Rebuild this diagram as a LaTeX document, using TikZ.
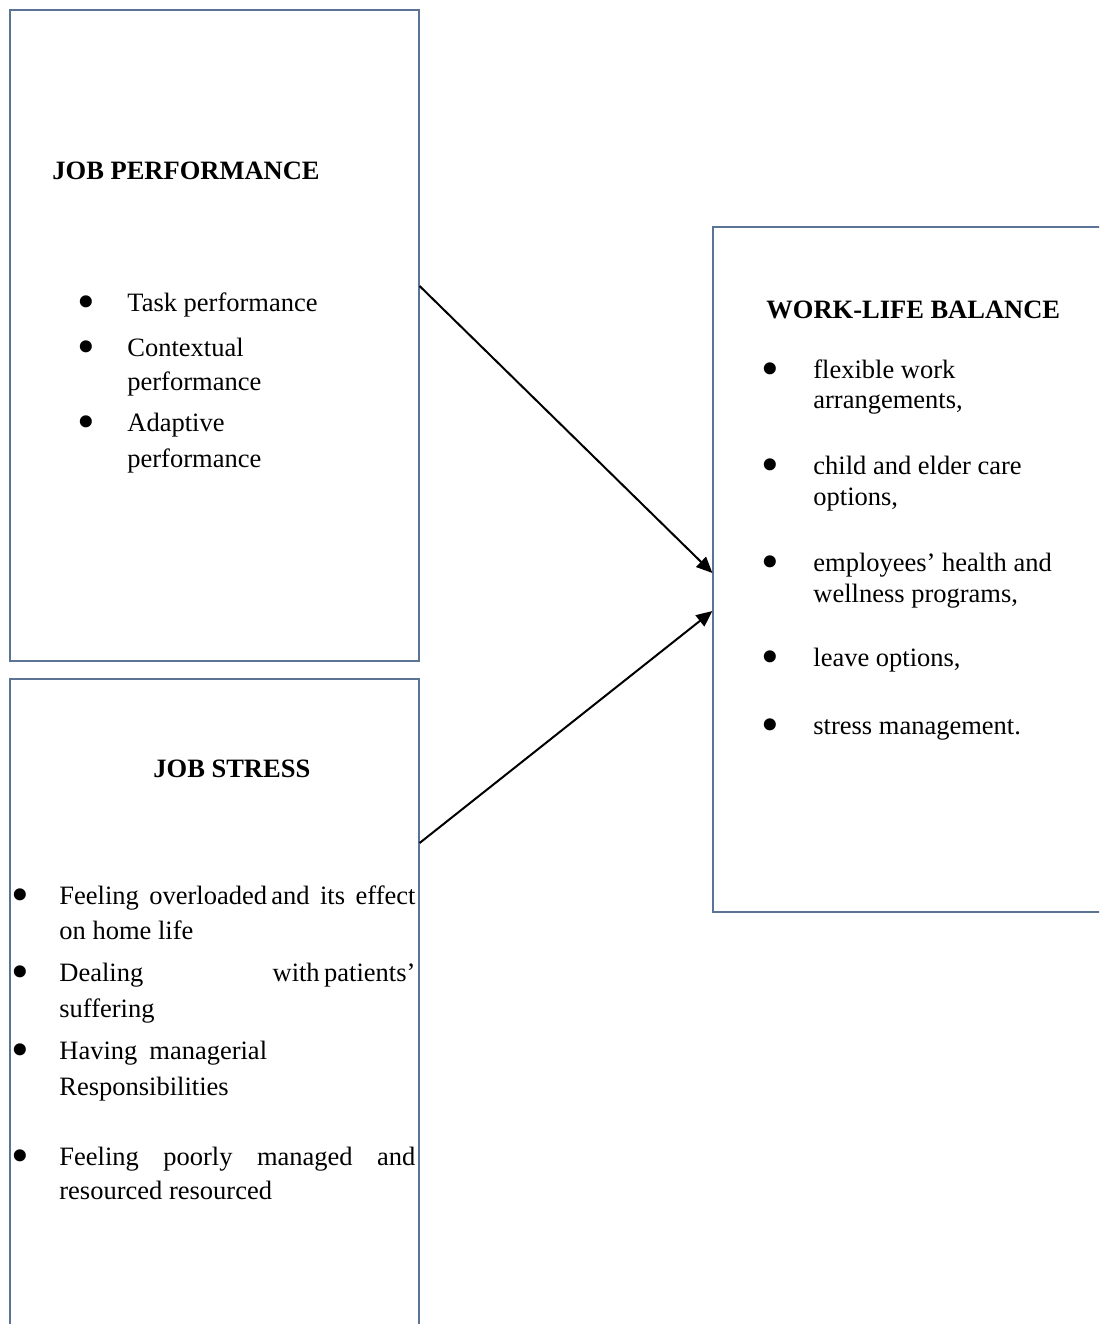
\documentclass[tikz,border=0pt]{standalone}
\usepackage{fontspec}
\usepackage{graphicx}
\setmainfont{Liberation Serif}
\usetikzlibrary{arrows.meta}
\definecolor{boxcol}{HTML}{5B7394}
\newcommand{\txtsize}{\fontsize{13.25pt}{15pt}\selectfont}
\newcommand{\bul}[1]{\llap{\smash{\raisebox{-3.8pt}{\scalebox{1.9}{\textbullet}}}\hspace{#1}}}

\begin{document}
\begin{tikzpicture}[x=0.5pt, y=-0.5pt,
    box/.style={draw=boxcol, line width=0.6pt, inner sep=0pt},
    txt/.style={anchor=base west, inner sep=0pt, font=\txtsize},
    head/.style={txt, font=\txtsize\bfseries},
    arr/.style={line width=1pt, -{Triangle[length=8pt, width=7pt]}}]

    \useasboundingbox (0, 0) rectangle (1099, 1324);
    \clip (0, 0) rectangle (1099, 1324);

    % boxes
    \node[box, minimum width=204.5pt, minimum height=325.5pt] (jp) at (214.5, 335.5) {};
    \node[box, minimum width=204.5pt, minimum height=327.5pt] (js) at (214.5, 1006.5) {};
    \node[box, minimum width=198.5pt, minimum height=342.5pt] (wlb) at (911.5, 569.5) {};

    % job performance
    \node[head] (jph) at (52, 179) {JOB PERFORMANCE};
    \node[txt] (jp1) at (127, 311) {\bul{16pt}Task performance};
    \node[txt] (jp2) at (127, 356) {\bul{16pt}Contextual};
    \node[txt] (jp3) at (127, 390) {performance};
    \node[txt] (jp4) at (127, 431) {\bul{16pt}Adaptive};
    \node[txt] (jp5) at (127, 467) {performance};

    % job stress
    \node[head] (jsh) at (153, 777) {JOB STRESS};
    \node[txt] (js1) at (59, 904) {\bul{15pt}\makebox[178pt][s]{Feeling overloaded\,and its effect}};
    \node[txt] (js2) at (59, 939) {on home life};
    \node[txt] (js3) at (59, 981) {\bul{15pt}\makebox[178pt][s]{Dealing with\,patients'}};
    \node[txt] (js4) at (59, 1017) {suffering};
    \node[txt] (js5) at (59, 1059) {\bul{15pt}Having\hspace{6pt}managerial};
    \node[txt] (js6) at (59, 1095) {Responsibilities};
    \node[txt] (js7) at (59, 1165) {\bul{15pt}\makebox[178pt][s]{Feeling poorly managed and}};
    \node[txt] (js8) at (59, 1199) {resourced resourced};

    % work-life balance
    \node[head] (wlbh) at (766, 318) {WORK-LIFE BALANCE};
    \node[txt] (wlb1) at (813, 378) {\bul{17pt}flexible work};
    \node[txt] (wlb2) at (813, 408) {arrangements,};
    \node[txt] (wlb3) at (813, 474) {\bul{17pt}child and elder care};
    \node[txt] (wlb4) at (813, 505) {options,};
    \node[txt] (wlb5) at (813, 571) {\bul{17pt}employees' health and};
    \node[txt] (wlb6) at (813, 602) {wellness programs,};
    \node[txt] (wlb7) at (813, 666) {\bul{17pt}leave options,};
    \node[txt] (wlb8) at (813, 734) {\bul{17pt}stress management.};

    \draw[arr] ([yshift=24.75pt]jp.east) -- ([yshift=-1.75pt]wlb.west);
    \draw[arr] ([yshift=81.75pt]js.east) -- ([yshift=-20.75pt]wlb.west);
\end{tikzpicture}
\end{document}
